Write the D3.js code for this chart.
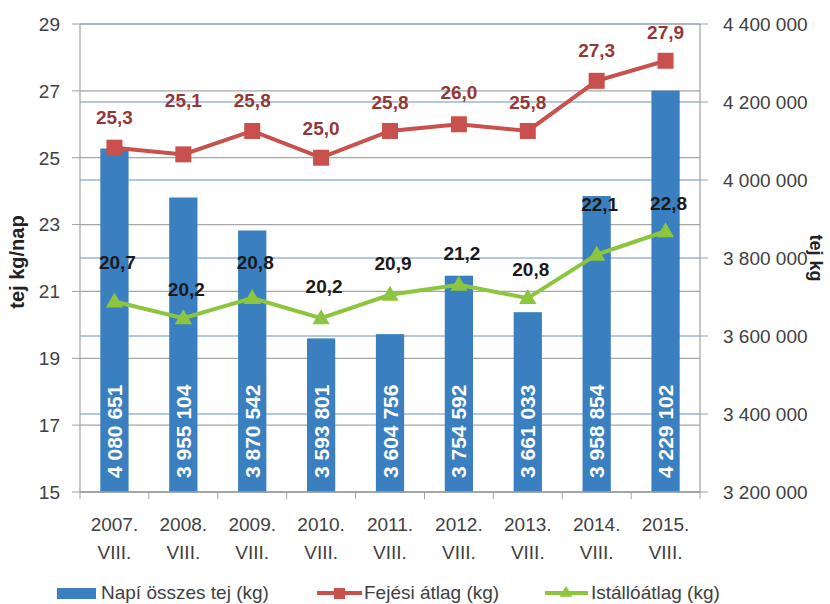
<!DOCTYPE html>
<html>
<head>
<meta charset="utf-8">
<script src="https://cdn.jsdelivr.net/npm/d3@7"></script>
<style>
  html, body { margin: 0; padding: 0; background: #fff; }
  svg { display: block; font-family: "Liberation Sans", Arial, sans-serif; }
</style>
</head>
<body>
<svg id="chart" width="830" height="604"></svg>
<script>
// ---- data ----
const years = ["2007.", "2008.", "2009.", "2010.", "2011.", "2012.", "2013.", "2014.", "2015."];
const months = ["VIII.", "VIII.", "VIII.", "VIII.", "VIII.", "VIII.", "VIII.", "VIII.", "VIII."];
const dailyTotal = [4080651, 3955104, 3870542, 3593801, 3604756, 3754592, 3661033, 3958854, 4229102];
const milkingAvg = [25.3, 25.1, 25.8, 25.0, 25.8, 26.0, 25.8, 27.3, 27.9];
const herdAvg = [20.7, 20.2, 20.8, 20.2, 20.9, 21.2, 20.8, 22.1, 22.8];
const leftTicks = [15, 17, 19, 21, 23, 25, 27, 29];
const rightTicks = [3200000, 3400000, 3600000, 3800000, 4000000, 4200000, 4400000];
const seriesNames = ["Napí összes tej (kg)", "Fejési átlag (kg)", "Istállóátlag (kg)"];

// label lifts above markers (px), as placed in the original
const redLift = [31, 54, 31, 30, 29, 32, 29, 31, 29];
const greenLift = [39, 29, 36, 32, 32, 32, 29, 50, 28];

// ---- layout ----
const L = 80, R = 700, T = 24, B = 492;
const svg = d3.select("#chart");
const fmt = v => d3.format(",")(v).replace(/,/g, " ");
const fmtDec = v => d3.format(".1f")(v).replace(".", ",");

const x = d3.scaleBand().domain(d3.range(years.length)).range([L, R]).padding(0);
const yL = d3.scaleLinear().domain([15, 29]).range([B, T]);
const yR = d3.scaleLinear().domain([3200000, 4400000]).range([B, T]);
const cx = i => x(i) + x.bandwidth() / 2;
const barW = x.bandwidth() * 0.41;

// gridlines: gray for left axis, light blue for right axis
svg.append("g").selectAll("line").data(rightTicks).join("line")
  .attr("x1", L).attr("x2", R)
  .attr("y1", d => yR(d)).attr("y2", d => yR(d))
  .attr("stroke", "#b3c8e0").attr("stroke-width", 2);
svg.append("g").selectAll("line").data(leftTicks).join("line")
  .attr("x1", L).attr("x2", R)
  .attr("y1", d => yL(d)).attr("y2", d => yL(d))
  .attr("stroke", "#a6a6a6").attr("stroke-width", 1.2);

// bars
svg.append("g").selectAll("rect").data(dailyTotal).join("rect")
  .attr("x", (d, i) => cx(i) - barW / 2)
  .attr("width", barW)
  .attr("y", d => yR(d))
  .attr("height", d => B - yR(d))
  .attr("fill", "#3a7fc0");

// bar labels (vertical, inside base)
svg.append("g").selectAll("text").data(dailyTotal).join("text")
  .attr("transform", (d, i) => `translate(${cx(i) + 7.5},${B - 14}) rotate(-90)`)
  .attr("text-anchor", "start")
  .attr("font-size", 21).attr("font-weight", "bold")
  .attr("fill", "#ffffff")
  .text(d => fmt(d));

// axes lines
const axisColor = "#a0a0a0";
svg.append("line").attr("x1", L).attr("x2", L).attr("y1", T).attr("y2", B).attr("stroke", axisColor).attr("stroke-width", 1.2);
svg.append("line").attr("x1", R).attr("x2", R).attr("y1", T).attr("y2", B).attr("stroke", axisColor).attr("stroke-width", 1.2);
svg.append("line").attr("x1", L).attr("x2", R).attr("y1", B).attr("y2", B).attr("stroke", axisColor).attr("stroke-width", 1.5);

// left ticks & labels
const gl = svg.append("g");
gl.selectAll("line").data(leftTicks).join("line")
  .attr("x1", L - 8).attr("x2", L).attr("y1", d => yL(d)).attr("y2", d => yL(d))
  .attr("stroke", axisColor);
gl.selectAll("text").data(leftTicks).join("text")
  .attr("x", 60).attr("y", d => yL(d)).attr("dy", "0.36em")
  .attr("text-anchor", "end").attr("font-size", 19).attr("fill", "#404040")
  .text(d => d);

// right ticks & labels
const gr = svg.append("g");
gr.selectAll("line").data(rightTicks).join("line")
  .attr("x1", R).attr("x2", R + 8).attr("y1", d => yR(d)).attr("y2", d => yR(d))
  .attr("stroke", axisColor);
gr.selectAll("text").data(rightTicks).join("text")
  .attr("x", 723).attr("y", d => yR(d)).attr("dy", "0.36em")
  .attr("text-anchor", "start").attr("font-size", 19).attr("fill", "#404040")
  .text(d => fmt(d));

// x ticks & labels
const bounds = d3.range(years.length + 1).map(i => L + i * x.bandwidth());
svg.append("g").selectAll("line").data(bounds).join("line")
  .attr("x1", d => d).attr("x2", d => d).attr("y1", B).attr("y2", B + 7)
  .attr("stroke", axisColor);
const gx = svg.append("g");
gx.selectAll("text.yr").data(years).join("text").attr("class", "yr")
  .attr("x", (d, i) => cx(i)).attr("y", 531)
  .attr("text-anchor", "middle").attr("font-size", 19).attr("fill", "#404040")
  .text(d => d);
gx.selectAll("text.mo").data(months).join("text").attr("class", "mo")
  .attr("x", (d, i) => cx(i)).attr("y", 559)
  .attr("text-anchor", "middle").attr("font-size", 19).attr("fill", "#404040")
  .text(d => d);

// axis titles
svg.append("text")
  .attr("transform", "translate(24,262) rotate(-90)")
  .attr("text-anchor", "middle").attr("font-size", 20).attr("font-weight", "bold")
  .attr("fill", "#222").text("tej kg/nap");
svg.append("text")
  .attr("transform", "translate(810,258) rotate(90)")
  .attr("text-anchor", "middle").attr("font-size", 18).attr("font-weight", "bold")
  .attr("fill", "#222").text("tej kg");

// lines
const red = "#c8504d", green = "#8cc63f";
const line = d3.line().x((d, i) => cx(i)).y(d => yL(d));
svg.append("path").datum(milkingAvg).attr("d", line)
  .attr("fill", "none").attr("stroke", red).attr("stroke-width", 4);
svg.append("path").datum(herdAvg).attr("d", line)
  .attr("fill", "none").attr("stroke", green).attr("stroke-width", 4);

// markers
const sq = 16;
svg.append("g").selectAll("rect").data(milkingAvg).join("rect")
  .attr("x", (d, i) => cx(i) - sq / 2).attr("y", d => yL(d) - sq / 2)
  .attr("width", sq).attr("height", sq).attr("fill", red);
const tri = d3.symbol().type(d3.symbolTriangle).size(130);
svg.append("g").selectAll("path").data(herdAvg).join("path")
  .attr("transform", (d, i) => `translate(${cx(i)},${yL(d) + 1})`)
  .attr("d", tri).attr("fill", green);

// point labels
svg.append("g").selectAll("text").data(milkingAvg).join("text")
  .attr("x", (d, i) => cx(i)).attr("y", (d, i) => yL(d) - redLift[i]).attr("dy", "0.36em")
  .attr("text-anchor", "middle").attr("font-size", 19).attr("font-weight", "bold")
  .attr("fill", "#953735").text(d => fmtDec(d));
svg.append("g").selectAll("text").data(herdAvg).join("text")
  .attr("x", (d, i) => cx(i) + 3).attr("y", (d, i) => yL(d) - greenLift[i]).attr("dy", "0.36em")
  .attr("text-anchor", "middle").attr("font-size", 19).attr("font-weight", "bold")
  .attr("fill", "#1a1a1a").text(d => fmtDec(d));

// legend
const lg = svg.append("g").attr("font-size", 19).attr("fill", "#404040");
lg.append("rect").attr("x", 57).attr("y", 588).attr("width", 39).attr("height", 11).attr("fill", "#3a7fc0");
lg.append("text").attr("x", 101).attr("y", 599).text(seriesNames[0]);
lg.append("line").attr("x1", 317).attr("x2", 362).attr("y1", 593).attr("y2", 593).attr("stroke", red).attr("stroke-width", 4);
lg.append("rect").attr("x", 334).attr("y", 588).attr("width", 11).attr("height", 11).attr("fill", red);
lg.append("text").attr("x", 364).attr("y", 599).text(seriesNames[1]);
lg.append("line").attr("x1", 545).attr("x2", 588).attr("y1", 593).attr("y2", 593).attr("stroke", green).attr("stroke-width", 4);
lg.append("path").attr("transform", "translate(566,593)").attr("d", d3.symbol().type(d3.symbolTriangle).size(70)).attr("fill", green);
lg.append("text").attr("x", 591).attr("y", 599).text(seriesNames[2]);
</script>
</body>
</html>
